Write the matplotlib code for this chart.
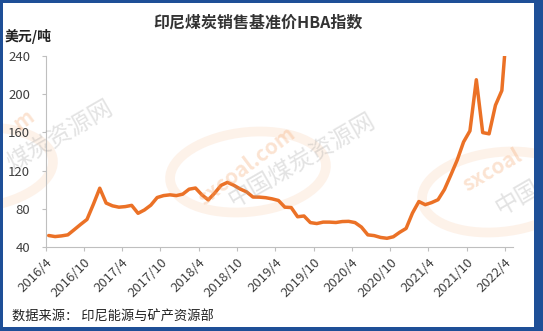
import numpy as np
import matplotlib.pyplot as plt
from matplotlib.patches import Rectangle, Ellipse

plt.rcParams['font.family'] = ['Noto Sans CJK SC', 'DejaVu Sans']

W, H = 543, 331

# HBA, USD/t, monthly from 2016/4 to 2022/4
hba_2016 = [52.3, 51.2, 51.9, 53.0, 58.4, 63.9, 69.1, 84.9, 101.7]
hba_2017 = [86.2, 83.3, 81.9, 82.5, 83.8, 75.5, 79.0, 84.0, 92.0, 94.0, 94.8, 94.0]
hba_2018 = [95.5, 100.7, 101.9, 94.8, 89.5, 96.6, 104.7, 107.8, 104.8, 100.9, 97.9, 92.5]
hba_2019 = [92.4, 91.8, 90.6, 88.9, 81.9, 81.5, 71.9, 72.7, 65.8, 64.8, 66.3, 66.3]
hba_2020 = [65.9, 66.9, 67.1, 65.8, 61.1, 53.0, 52.2, 50.3, 49.4, 51.0, 55.7, 59.7]
hba_2021 = [75.8, 87.8, 84.5, 86.7, 89.7, 100.3, 115.4, 131.0, 150.0, 161.6, 215.0, 159.8]
hba_2022 = [158.5, 188.4, 203.7, 288.4]

tick_labels = ['2016/4', '2016/10', '2017/4', '2017/10', '2018/4', '2018/10',
               '2019/4', '2019/10', '2020/4', '2020/10', '2021/4', '2021/10', '2022/4']
y_ticks = [40, 80, 120, 160, 200, 240]

values = hba_2016 + hba_2017 + hba_2018 + hba_2019 + hba_2020 + hba_2021 + hba_2022
months = np.arange(len(values)) + 0.5


def fx(px):
    return px / W


def fy(py):
    return 1 - py / H


fig = plt.figure(figsize=(W / 100, H / 100), dpi=100)
fig.patch.set_facecolor('white')

# watermark (sxcoal), only the parts that show
orange_wm = '#f4a46a'
gray_wm = '#9a9a9a'
for cx, cy in [(-25, 168), (248, 172), (500, 192)]:
    e = Ellipse((fx(cx), fy(cy)), 160 / W, 78 / H, angle=22, transform=fig.transFigure,
                fill=False, edgecolor=orange_wm, lw=7, alpha=0.14, zorder=0)
    fig.add_artist(e)
wm_orange = [('m', 24, 120, 36), ('sxcoal.com', 247, 166, 37), ('sxcoal', 492, 170, 30)]
for s, x0, y0, r in wm_orange:
    fig.text(fx(x0), fy(y0), s, rotation=r, ha='center', va='center',
             fontsize=15, fontweight='bold', color=orange_wm, alpha=0.3, zorder=0)
wm_gray = [('煤炭资源网', 60, 136), ('中国煤炭资源网', 302, 160), ('中国', 518, 198)]
for s, x0, y0 in wm_gray:
    fig.text(fx(x0), fy(y0), s, rotation=30, ha='center', va='center',
             fontsize=17, color=gray_wm, alpha=0.28, zorder=0)

ax = fig.add_axes([fx(45.5), fy(247.3), fx(512.7) - fx(45.5), fy(55.8) - fy(247.3)])
ax.patch.set_alpha(0)
ax.plot(months, values, color='#EB7126', lw=2.5,
        solid_capstyle='round', solid_joinstyle='round')

ax.set_xlim(0, 73.2)
ax.set_ylim(40, 240)
ax.set_yticks(y_ticks)
ax.set_xticks(np.arange(0, 73, 6))
ax.set_xticklabels(tick_labels, rotation=45, ha='right', rotation_mode='anchor')

for s in ['top', 'right']:
    ax.spines[s].set_visible(False)
for s in ['left', 'bottom']:
    ax.spines[s].set_color('#bfbfbf')
    ax.spines[s].set_linewidth(0.8)
ax.tick_params(axis='y', length=3, color='#bfbfbf', labelsize=9.5, labelcolor='#404040', pad=8)
ax.tick_params(axis='x', length=3, color='#bfbfbf', labelsize=9.5, labelcolor='#404040', pad=3)

fig.text(fx(258), fy(23), '印尼煤炭销售基准价HBA指数', ha='center', va='center',
         fontsize=11.5, fontweight='bold', color='#333333')
fig.text(fx(5), fy(36), '美元/吨', ha='left', va='center',
         fontsize=10, fontweight='bold', color='#222222')
fig.text(fx(12), fy(317), '数据来源： 印尼能源与矿产资源部', ha='left', va='center',
         fontsize=9.5, color='#222222')

# blue frame
blue = '#1e4f97'
for x0, y0, w, h in [(0, 0, 3, H), (0, 0, W, 3), (534, 0, W - 534, H), (0, 327, W, H - 327)]:
    fig.add_artist(Rectangle((fx(x0), fy(y0 + h)), w / W, h / H, transform=fig.transFigure,
                             facecolor=blue, edgecolor='none', zorder=10))

fig.savefig('out.png', dpi=100)
